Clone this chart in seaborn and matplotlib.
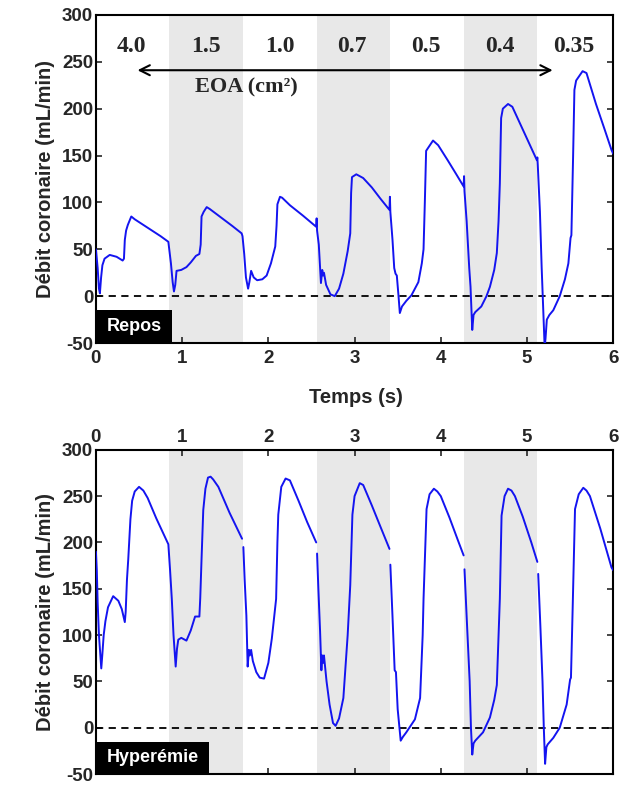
import numpy as np
import pandas as pd
import seaborn as sns
from matplotlib import pyplot as plt
from matplotlib.patches import Rectangle


# ----------------------------------------------------------------------
# data (time in s, flow in mL/min)
repos_t = [0.00, 0.02, 0.035, 0.046, 0.06, 0.075, 0.10, 0.16, 0.24, 0.31, 0.325, 0.335, 0.35, 0.37, 0.41,
           0.45, 0.55, 0.65, 0.75, 0.84, 0.85, 0.87, 0.89, 0.905, 0.92, 0.935, 0.99, 1.05, 1.10, 1.16,
           1.20, 1.215, 1.225, 1.25, 1.285, 1.32, 1.45, 1.58, 1.69, 1.70, 1.72, 1.74, 1.765, 1.78, 1.80,
           1.83, 1.87, 1.93, 1.98, 2.03, 2.08, 2.095, 2.105, 2.135, 2.16, 2.25, 2.40, 2.555, 2.56, 2.565,
           2.585, 2.60, 2.61, 2.625, 2.635, 2.645, 2.67, 2.72, 2.77, 2.82, 2.87, 2.92, 2.95, 2.96, 2.97,
           3.02, 3.10, 3.20, 3.30, 3.405, 3.41, 3.415, 3.44, 3.46, 3.475, 3.49, 3.51, 3.525, 3.55, 3.60,
           3.66, 3.74, 3.78, 3.80, 3.815, 3.83, 3.91, 3.97, 4.08, 4.18, 4.265, 4.27, 4.275, 4.30, 4.33,
           4.345, 4.365, 4.38, 4.40, 4.47, 4.53, 4.57, 4.62, 4.65, 4.67, 4.685, 4.70, 4.72, 4.78, 4.83,
           4.95, 5.05, 5.115, 5.12, 5.125, 5.15, 5.17, 5.19, 5.205, 5.215, 5.23, 5.26, 5.305, 5.38, 5.44,
           5.48, 5.505, 5.515, 5.535, 5.55, 5.57, 5.645, 5.69, 5.80, 5.90, 5.98, 6.00]
repos_v = [50, 30, 8, 3, 20, 33, 40, 44, 42, 38, 40, 60, 70, 76, 85,
           82, 76, 70, 64, 58, 50, 35, 15, 5, 12, 27, 28, 31, 36, 43,
           45, 55, 85, 90, 95, 93, 84, 75, 67, 64, 45, 20, 8, 15, 27,
           20, 17, 18, 22, 35, 53, 75, 98, 106, 105, 97, 86, 74, 83, 70,
           55, 30, 14, 28, 22, 25, 12, 2, 0, 8, 24, 48, 67, 110, 127,
           130, 126, 116, 104, 92, 106, 90, 60, 30, 24, 22, 0, -18, -11, -5,
           1, 15, 35, 50, 100, 155, 166, 161, 145, 130, 117, 128, 112, 80, 30,
           10, -36, -20, -17, -11, 0, 10, 28, 46, 80, 120, 190, 200, 205, 202,
           178, 158, 145, 148, 140, 90, 31, -20, -55, -45, -25, -20, -15, 0, 18,
           35, 62, 65, 150, 220, 230, 240, 238, 205, 178, 156, 152]

hyper_t = [0.00, 0.01, 0.02, 0.035, 0.05, 0.062, 0.075, 0.09, 0.11, 0.14, 0.20, 0.26, 0.30, 0.335, 0.345,
           0.36, 0.375, 0.40, 0.42, 0.45, 0.50, 0.55, 0.60, 0.70, 0.80, 0.835, 0.84, 0.86, 0.88, 0.90,
           0.925, 0.94, 0.955, 0.99, 1.05, 1.10, 1.15, 1.20, 1.21, 1.225, 1.245, 1.27, 1.30, 1.33, 1.36,
           1.42, 1.55, 1.695, 1.70, 1.71, 1.725, 1.745, 1.76, 1.775, 1.785, 1.80, 1.82, 1.86, 1.90, 1.95,
           2.00, 2.04, 2.09, 2.105, 2.115, 2.15, 2.20, 2.25, 2.35, 2.45, 2.555, 2.56, 2.565, 2.58, 2.60,
           2.615, 2.625, 2.635, 2.645, 2.675, 2.71, 2.75, 2.78, 2.82, 2.87, 2.92, 2.95, 2.975, 3.00, 3.06,
           3.10, 3.20, 3.30, 3.405, 3.41, 3.415, 3.44, 3.465, 3.48, 3.50, 3.535, 3.56, 3.60, 3.70, 3.76,
           3.79, 3.80, 3.835, 3.87, 3.92, 3.96, 4.00, 4.10, 4.20, 4.265, 4.27, 4.275, 4.30, 4.335, 4.35,
           4.365, 4.38, 4.40, 4.49, 4.57, 4.62, 4.65, 4.685, 4.705, 4.74, 4.78, 4.82, 4.86, 4.95, 5.05,
           5.12, 5.125, 5.13, 5.155, 5.18, 5.195, 5.21, 5.225, 5.24, 5.305, 5.38, 5.46, 5.50, 5.51, 5.53,
           5.557, 5.60, 5.653, 5.69, 5.73, 5.85, 5.98, 6.00]
hyper_v = [190, 170, 135, 100, 80, 64, 80, 100, 115, 130, 142, 137, 128, 114, 125,
           160, 182, 225, 245, 255, 260, 256, 248, 226, 206, 199, 198, 170, 139, 100,
           66, 85, 95, 97, 94, 105, 120, 120, 140, 182, 235, 258, 270, 271, 268,
           260, 232, 204, np.nan, 195, 160, 121, 66, 84, 78, 84, 72, 60, 54, 53,
           70, 96, 139, 200, 230, 260, 269, 267, 245, 222, 200, np.nan, 188, 150, 104,
           62, 78, 70, 78, 50, 25, 5, 2, 10, 32, 100, 154, 230, 250, 264,
           262, 240, 217, 193, np.nan, 176, 120, 62, 60, 20, -14, -10, -5, 9, 32,
           100, 139, 236, 252, 258, 255, 250, 227, 202, 186, np.nan, 171, 120, 50, 0,
           -29, -17, -14, -5, 11, 30, 46, 139, 229, 250, 258, 256, 250, 228, 200,
           179, np.nan, 166, 110, 50, 0, -39, -21, -18, -11, 0, 25, 52, 54, 130,
           236, 252, 259, 256, 250, 215, 173, 170]

# stenosis periods (shaded) and EOA labels
shade_start = [0.85, 2.56, 4.27]
shade_end = [1.71, 3.41, 5.12]
eoa_labels = ["4.0", "1.5", "1.0", "0.7", "0.5", "0.4", "0.35"]
eoa_centers = [0.41, 1.28, 2.13, 2.97, 3.83, 4.69, 5.54]

BLUE = "#1414f0"


# ----------------------------------------------------------------------
def to_frame(t, v):
    df = pd.DataFrame({"t": t, "v": v})
    # new segment after each gap in the recording
    df["seg"] = df["v"].isna().cumsum()
    return df.dropna()


def style_axes(ax):
    ax.set_xlim(0, 6)
    ax.set_ylim(-50, 300)
    ax.set_yticks(range(-50, 301, 50))
    ax.set_xticks(range(0, 7))
    for s in ax.spines.values():
        s.set_linewidth(1.5)
        s.set_color("black")
    ax.tick_params(direction="in", length=4, width=1.2, labelsize=13.5, pad=2)
    ax.tick_params(axis="x", pad=5)
    ax.set_ylabel("Débit coronaire (mL/min)", fontsize=14.5, labelpad=5)
    ax.set_xlabel("")
    for a, b in zip(shade_start, shade_end):
        ax.axvspan(a, b, color="#e8e8e8", lw=0, zorder=0)
    ax.axhline(0, color="black", ls=(0, (4, 3)), lw=1.3, zorder=1)


def tag(ax, text, width):
    ax.add_patch(Rectangle((0, 0), width, 0.1, transform=ax.transAxes, facecolor="black",
                           edgecolor="none", zorder=5, clip_on=False))
    ax.text(width / 2, 0.05, text, transform=ax.transAxes, ha="center", va="center",
            color="white", fontsize=13, zorder=6)


sns.set_style("white")
plt.rcParams["font.family"] = ["Liberation Sans", "DejaVu Sans"]
plt.rcParams["font.weight"] = "bold"
plt.rcParams["axes.labelweight"] = "bold"
plt.rcParams["axes.unicode_minus"] = False

fig = plt.figure(figsize=(6.27, 7.85), dpi=100)
ax1 = fig.add_axes([0.153, 0.563, 0.825, 0.418])
ax2 = fig.add_axes([0.153, 0.014, 0.825, 0.413])

# top: rest
sns.lineplot(data=to_frame(repos_t, repos_v), x="t", y="v", units="seg", estimator=None,
             sort=False, color=BLUE, lw=1.4, ax=ax1, zorder=3)
style_axes(ax1)
ax1.tick_params(right=True, bottom=True, top=False, left=True)
tag(ax1, "Repos", 0.147)

for lab, xc in zip(eoa_labels, eoa_centers):
    ax1.text(xc, 266, lab, ha="center", va="center", fontsize=17, family="Liberation Serif")
ax1.annotate("", xy=(0.45, 241), xytext=(5.33, 241),
             arrowprops=dict(arrowstyle="<->", color="black", lw=1.5, mutation_scale=18))
ax1.text(1.74, 223, "EOA (cm²)", ha="center", va="center", fontsize=16, family="Liberation Serif")

fig.text(0.567, 0.494, "Temps (s)", ha="center", va="center", fontsize=14.5)

# bottom: hyperemia
sns.lineplot(data=to_frame(hyper_t, hyper_v), x="t", y="v", units="seg", estimator=None,
             sort=False, color=BLUE, lw=1.4, ax=ax2, zorder=3)
style_axes(ax2)
ax2.tick_params(right=True, top=True, bottom=True, left=True, labeltop=True, labelbottom=False)
ax2.tick_params(axis="x", pad=3)
tag(ax2, "Hyperémie", 0.219)

fig.savefig("out.png", dpi=100)
